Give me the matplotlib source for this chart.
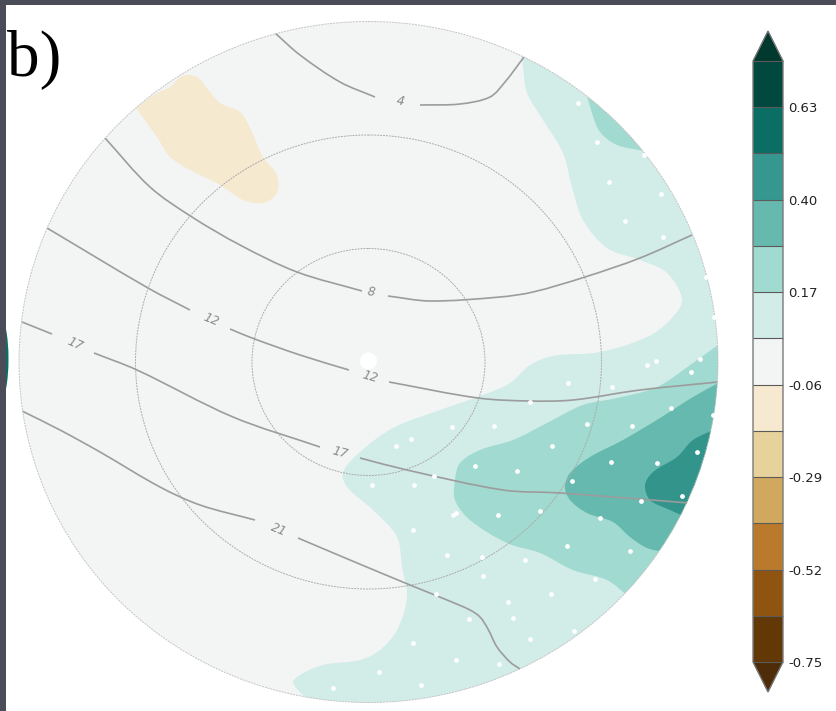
import numpy as np
import matplotlib
matplotlib.use("Agg")
import matplotlib.pyplot as plt
from matplotlib.colors import ListedColormap, BoundaryNorm
from matplotlib.cm import ScalarMappable
from matplotlib.patches import Ellipse, PathPatch, Rectangle
from matplotlib.path import Path

# map positions are in figure pixels (the projection has no readable axes)
CX, CY = 368.5, 362
RX, RY = 349.5, 340.5

levels = [-0.75, -0.635, -0.52, -0.405, -0.29, -0.175, -0.06, 0.055, 0.17, 0.285, 0.40, 0.515, 0.63, 0.75]
tick_vals = [-0.75, -0.52, -0.29, -0.06, 0.17, 0.40, 0.63]
tick_text = ["-0.75", "-0.52", "-0.29", "-0.06", "0.17", "0.40", "0.63"]
colors = ["#613806", "#8e5410", "#b97a2b", "#d0a95f", "#e7d29b", "#f6e9cf", "#f3f5f5",
          "#d2ece8", "#a1dad0", "#66b9ae", "#35978f", "#0a6e65", "#01493f"]
under_color = "#4e2c07"
over_color = "#01392f"

# filled contour boundaries; "out" points close the shape outside the rim
band1 = [(521, 55), (523, 67), (527, 93), (543, 120), (563, 153), (572, 187), (583, 220), (607, 248),
         (640, 260), (667, 273), (682, 300), (670, 320), (647, 337), (600, 352), (553, 356), (530, 365),
         (510, 383), (483, 395), (440, 410), (393, 428), (360, 452), (343, 472), (347, 487), (373, 510),
         (397, 537), (402, 567), (407, 597), (397, 630), (380, 650), (360, 660), (323, 665), (300, 675),
         (293, 683), (312, 704)]
band1_out = [(400, 730), (800, 730), (800, 20), (540, 20)]
band2a = [(585, 88), (592, 113), (600, 132), (617, 145), (644, 151)]
band2a_out = [(700, 100), (620, 60)]
band2b = [(722, 342), (693, 363), (657, 387), (617, 398), (583, 405), (547, 423), (513, 440), (480, 450),
          (460, 463), (455, 480), (455, 500), (470, 520), (507, 543), (540, 553), (573, 570), (607, 580),
          (628, 596)]
band2b_out = [(800, 650), (800, 300)]
band3 = [(722, 381), (693, 397), (660, 418), (623, 440), (590, 457), (570, 473), (565, 487), (570, 500),
         (587, 513), (613, 522), (630, 537), (647, 548), (664, 552)]
band3_out = [(800, 600), (800, 350)]
band4 = [(718, 428), (693, 440), (677, 457), (653, 472), (645, 485), (650, 500), (670, 510), (690, 519)]
band4_out = [(800, 540), (800, 420)]
tan1 = [(130, 112), (157, 93), (170, 87), (182, 76), (197, 77), (210, 92), (220, 103), (240, 112),
        (250, 128), (263, 157), (277, 175), (277, 193), (263, 203), (243, 200), (220, 185), (190, 170),
        (170, 157), (157, 137), (130, 100)]
tan1_out = [(120, 100)]

# contour lines, split where the labels sit
line4 = [[(275, 33), (300, 55), (340, 82), (375, 97)],
         [(420, 105), (460, 104), (490, 97), (505, 82), (524, 57)]]
line8 = [[(105, 138), (150, 187), (192, 217), (240, 245), (297, 272), (362, 291)],
         [(388, 296), (430, 301), (500, 297), (533, 292), (585, 277), (640, 258), (692, 235)]]
line12 = [[(47, 228), (148, 288), (190, 310)],
          [(230, 329), (252, 338), (300, 355), (349, 370)],
          [(389, 382), (478, 398), (530, 401), (573, 400), (640, 390), (718, 382)]]
line17 = [[(22, 322), (52, 334)],
          [(94, 353), (137, 370), (233, 417), (320, 447)],
          [(360, 458), (407, 470), (503, 490), (560, 493), (689, 503)]]
line21 = [[(22, 411), (60, 430), (100, 452), (160, 487), (200, 505), (255, 520)],
          [(298, 538), (350, 560), (410, 585), (447, 600), (470, 610), (480, 617), (488, 629), (497, 647),
           (510, 662), (520, 669)]]

label_text = ["4", "8", "12", "12", "17", "17", "21"]
label_x = [400, 371, 211, 370, 75, 340, 279]
label_y = [101, 292, 320, 377, 344, 453, 530]
label_rot = [-10, -8, -22, -16, -24, -15, -22]

stipple_x = [656, 647, 700, 691, 568, 612, 530, 671, 713, 587, 632, 494, 452, 411, 396, 552, 697, 611, 657,
             475, 517, 434, 572, 372, 414, 682, 641, 540, 456, 453, 498, 600, 413, 567, 630, 447, 482, 525,
             483, 595, 436, 551, 508, 469, 513, 574, 530, 413, 456, 499, 379, 421, 333, 578, 597, 644, 609,
             661, 625, 663, 706, 714]
stipple_y = [361, 365, 359, 372, 383, 387, 402, 408, 415, 424, 426, 426, 427, 439, 446, 446, 452, 462, 463,
             466, 471, 476, 481, 485, 485, 496, 501, 511, 513, 515, 515, 518, 530, 546, 551, 555, 557, 560,
             576, 579, 594, 594, 602, 619, 618, 631, 639, 643, 660, 664, 672, 685, 688, 103, 142, 155, 182,
             194, 221, 237, 277, 317]


def smooth_verts(pts):
    # spline through the read points, tangents scaled by chord length so uneven spacing stays smooth
    p = np.array(pts, dtype=float)
    d = np.hypot(*np.diff(p, axis=0).T)
    tang = np.zeros_like(p)
    tang[0] = (p[1] - p[0]) / d[0]
    tang[-1] = (p[-1] - p[-2]) / d[-1]
    tang[1:-1] = (p[2:] - p[:-2]) / (d[1:] + d[:-1])[:, None]
    verts = [tuple(p[0])]
    codes = [Path.MOVETO]
    for i in range(len(p) - 1):
        verts += [tuple(p[i] + tang[i] * d[i] / 3), tuple(p[i + 1] - tang[i + 1] * d[i] / 3), tuple(p[i + 1])]
        codes += [Path.CURVE4] * 3
    return verts, codes


def add_band(ax, pts, out, color, clip):
    verts, codes = smooth_verts(pts)
    verts = verts + list(out) + [verts[0]]
    codes = codes + [Path.LINETO] * len(out) + [Path.CLOSEPOLY]
    pp = PathPatch(Path(verts, codes), facecolor=color, edgecolor="none", zorder=2)
    ax.add_patch(pp)
    pp.set_clip_path(clip)


def add_line(ax, pts, clip):
    verts, codes = smooth_verts(pts)
    pp = PathPatch(Path(verts, codes), fill=False, edgecolor="#9c9c9c", linewidth=1.2, zorder=4)
    ax.add_patch(pp)
    pp.set_clip_path(clip)


fig = plt.figure(figsize=(8.36, 7.11), dpi=100, facecolor="white")
ax = fig.add_axes([0, 0, 1, 1])
ax.set_xlim(0, 836)
ax.set_ylim(711, 0)
ax.axis("off")

# screenshot edges, with a sliver of the neighbouring panel
ax.add_patch(Ellipse((0, 359), 17, 84, facecolor="#0a6e65", edgecolor="none", zorder=1))
ax.add_patch(Rectangle((0, 0), 836, 5, facecolor="#4a4d57", edgecolor="none", zorder=1.5))
ax.add_patch(Rectangle((0, 0), 6, 711, facecolor="#4a4d57", edgecolor="none", zorder=1.5))

disc = Ellipse((CX, CY), 2 * RX, 2 * RY, facecolor="#f3f5f5", edgecolor="none", zorder=1)
ax.add_patch(disc)

add_band(ax, band1, band1_out, "#d2ece8", disc)
add_band(ax, band2a, band2a_out, "#a1dad0", disc)
add_band(ax, band2b, band2b_out, "#a1dad0", disc)
add_band(ax, band3, band3_out, "#66b9ae", disc)
add_band(ax, band4, band4_out, "#33948b", disc)
add_band(ax, tan1, tan1_out, "#f5e9cf", disc)

# latitude rings and rim
for frac, col in [(1 / 3, "#ababab"), (2 / 3, "#ababab"), (1, "#c4c4c4")]:
    ax.add_patch(Ellipse((CX, CY), 2 * RX * frac, 2 * RY * frac, fill=False, edgecolor=col,
                         linewidth=0.7, linestyle=(0, (2, 1)), zorder=3))

for segs in [line4, line8, line12, line17, line21]:
    for seg in segs:
        add_line(ax, seg, disc)

for t, x, y, r in zip(label_text, label_x, label_y, label_rot):
    ax.text(x, y, t, rotation=r, rotation_mode="anchor", ha="center", va="center", fontsize=9,
            style="italic", color="#8a8a8a", zorder=5)

ax.scatter(stipple_x, stipple_y, s=12, color="white", linewidths=0, zorder=6)
ax.add_patch(Ellipse((CX, CY - 1), 17, 17, facecolor="white", edgecolor="none", zorder=6))

ax.text(7, 76, "b)", family="Liberation Serif", fontsize=47, color="black", ha="left", va="baseline", zorder=7)

# colour bar: the axes box is the body plus the two arrows
cax = fig.add_axes([753 / 836, 1 - 692 / 711, 30 / 836, 661 / 711])
cmap = ListedColormap(colors)
cmap.set_under(under_color)
cmap.set_over(over_color)
norm = BoundaryNorm(levels, cmap.N)
cb = fig.colorbar(ScalarMappable(norm=norm, cmap=cmap), cax=cax, extend="both", extendfrac=30 / 601,
                  spacing="uniform", drawedges=True, ticks=tick_vals)
cb.ax.minorticks_off()
cb.ax.set_yticklabels(tick_text)
cb.ax.tick_params(length=0, pad=4, labelsize=9.5, colors="#222222")
cb.outline.set_edgecolor("#7a7a7a")
cb.outline.set_linewidth(1.0)
cb.dividers.set_color("#5a5a5a")
cb.dividers.set_linewidth(0.8)

fig.savefig("out.png", dpi=100)
